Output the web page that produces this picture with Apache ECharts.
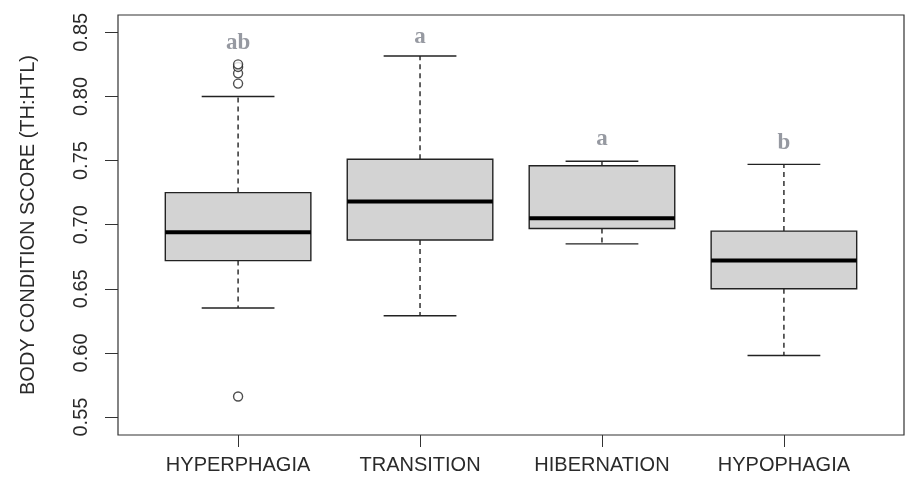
<!DOCTYPE html>
<html>
<head>
<meta charset="utf-8">
<script src="https://cdn.jsdelivr.net/npm/echarts@6/dist/echarts.min.js"></script>
<style>html,body{margin:0;padding:0;background:#fff;}#c{width:906px;height:486px;}</style>
</head>
<body>
<div id="c"></div>
<script>
// Categories and box statistics (lower whisker, Q1, median, Q3, upper whisker)
var categories = ['HYPERPHAGIA', 'TRANSITION', 'HIBERNATION', 'HYPOPHAGIA'];
var lowerWhisker = [0.635, 0.629, 0.685, 0.598];
var q1Values     = [0.672, 0.688, 0.697, 0.650];
var medians      = [0.694, 0.718, 0.705, 0.672];
var q3Values     = [0.725, 0.751, 0.746, 0.695];
var upperWhisker = [0.800, 0.8315, 0.7495, 0.747];
// Outliers: category index (1-based) and value
var outlierCat   = [1, 1, 1, 1, 1];
var outlierVal   = [0.810, 0.818, 0.823, 0.825, 0.566];
// Significance letters
var letters      = ['ab', 'a', 'a', 'b'];
var letterY      = [0.842, 0.846, 0.767, 0.7635];
// Y tick labels
var yTicks       = [0.55, 0.60, 0.65, 0.70, 0.75, 0.80, 0.85];
var xTicks       = [1, 2, 3, 4];

var boxData = categories.map(function (c, i) {
  return [i + 1, lowerWhisker[i], q1Values[i], medians[i], q3Values[i], upperWhisker[i]];
});
var outlierData = outlierCat.map(function (c, i) { return [c, outlierVal[i]]; });
var letterData = letters.map(function (l, i) { return { value: [i + 1, letterY[i]], name: l }; });

var chart = echarts.init(document.getElementById('c'));
var txt = '#2a2a2a';
chart.setOption({
  animation: false,
  backgroundColor: '#fff',
  grid: { left: 118, right: 2, top: 15, bottom: 51, show: true, borderColor: '#333', borderWidth: 1.2, backgroundColor: 'transparent' },
  xAxis: {
    type: 'value', min: 0.34, max: 4.66,
    axisLine: { show: false },
    splitLine: { show: false },
    axisTick: { show: true, length: 12, customValues: xTicks, lineStyle: { color: '#333' } },
    axisLabel: {
      customValues: xTicks, margin: 20,
      fontFamily: 'Liberation Sans, Arial, sans-serif', fontSize: 20, color: txt,
      formatter: function (v) { return categories[Math.round(v) - 1] || ''; }
    }
  },
  yAxis: {
    type: 'value', min: 0.536, max: 0.8635,
    name: 'BODY CONDITION SCORE (TH:HTL)', nameLocation: 'middle', nameRotate: 90, nameGap: 80,
    nameTextStyle: { fontFamily: 'Liberation Sans, Arial, sans-serif', fontSize: 20, color: txt },
    axisLine: { show: false },
    splitLine: { show: false },
    axisTick: { show: true, length: 13, customValues: yTicks, lineStyle: { color: '#333' } },
    axisLabel: {
      customValues: yTicks, rotate: 90, margin: 27,
      fontFamily: 'Liberation Sans, Arial, sans-serif', fontSize: 20, color: txt,
      formatter: function (v) { return v.toFixed(2); }
    }
  },
  series: [
    {
      type: 'custom',
      data: boxData,
      renderItem: function (params, api) {
        var x = api.value(0);
        var pLow = api.coord([x, api.value(1)]);
        var pQ1 = api.coord([x, api.value(2)]);
        var pMed = api.coord([x, api.value(3)]);
        var pQ3 = api.coord([x, api.value(4)]);
        var pHigh = api.coord([x, api.value(5)]);
        var boxL = api.coord([x - 0.4, 0.7])[0];
        var boxR = api.coord([x + 0.4, 0.7])[0];
        var stL = api.coord([x - 0.2, 0.7])[0];
        var stR = api.coord([x + 0.2, 0.7])[0];
        var cx = pMed[0];
        var line = { stroke: '#222', lineWidth: 1.4 };
        var dash = { stroke: '#222', lineWidth: 1.4, lineDash: [5, 4] };
        return {
          type: 'group',
          children: [
            { type: 'line', shape: { x1: cx, y1: pQ3[1], x2: cx, y2: pHigh[1] }, style: dash },
            { type: 'line', shape: { x1: cx, y1: pQ1[1], x2: cx, y2: pLow[1] }, style: dash },
            { type: 'line', shape: { x1: stL, y1: pHigh[1], x2: stR, y2: pHigh[1] }, style: line },
            { type: 'line', shape: { x1: stL, y1: pLow[1], x2: stR, y2: pLow[1] }, style: line },
            { type: 'rect', shape: { x: boxL, y: pQ3[1], width: boxR - boxL, height: pQ1[1] - pQ3[1] },
              style: { fill: '#d3d3d3', stroke: '#222', lineWidth: 1.4 } },
            { type: 'line', shape: { x1: boxL, y1: pMed[1], x2: boxR, y2: pMed[1] }, style: { stroke: '#000', lineWidth: 4 } }
          ]
        };
      }
    },
    {
      type: 'scatter',
      data: outlierData,
      symbol: 'circle', symbolSize: 9,
      itemStyle: { color: '#fff', borderColor: '#222', borderWidth: 1.4 }
    },
    {
      type: 'scatter',
      data: letterData,
      symbolSize: 0,
      itemStyle: { color: 'transparent' },
      label: {
        show: true, position: 'inside',
        formatter: function (p) { return p.name; },
        fontFamily: 'Liberation Serif, Times New Roman, serif', fontWeight: 'bold', fontSize: 23, color: '#7c7f8a'
      }
    }
  ]
});
</script>
</body>
</html>
